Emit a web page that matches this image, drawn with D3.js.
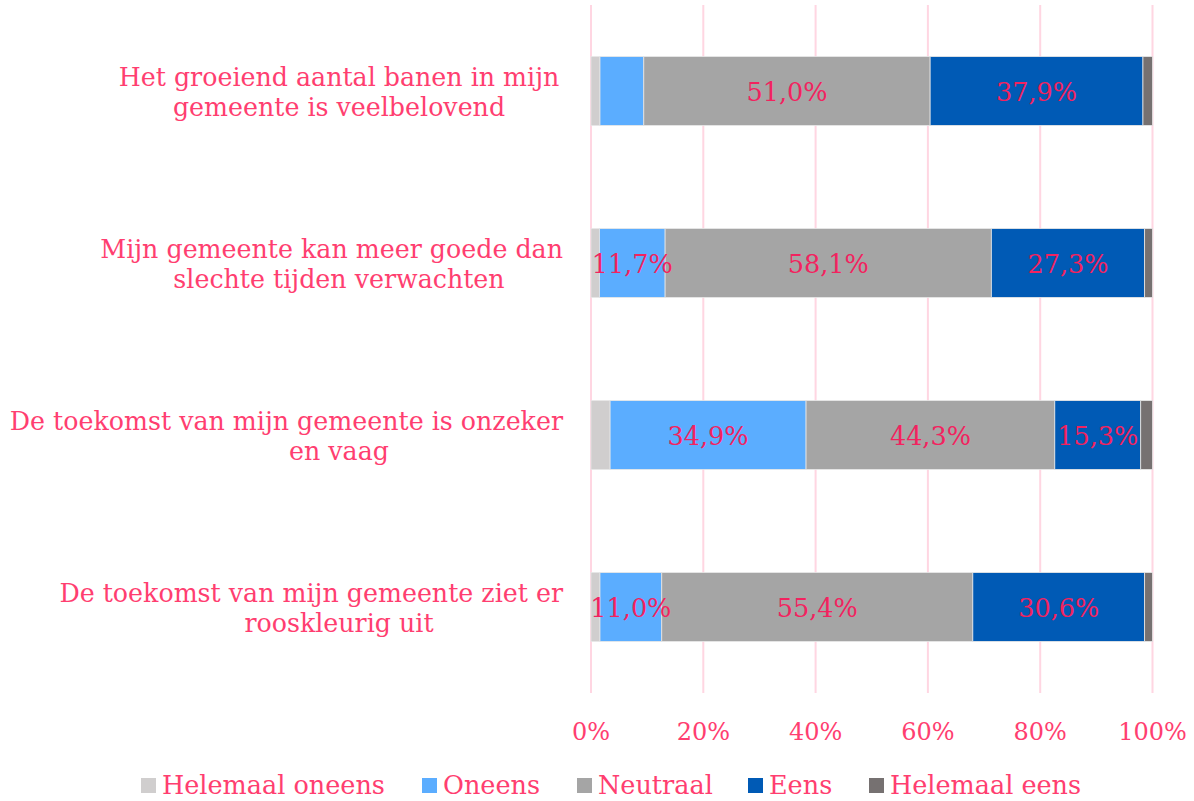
<!DOCTYPE html>
<html>
<head>
<meta charset="utf-8">
<script src="https://cdn.jsdelivr.net/npm/d3@7"></script>
<style>
  body { margin: 0; background: #fff; }
  svg { display: block; font-family: "DejaVu Serif", Georgia, serif; }
</style>
</head>
<body>
<svg id="chart" width="1194" height="801"></svg>
<script>
// data
var categories = [
  ["Het groeiend aantal banen in mijn", "gemeente is veelbelovend"],
  ["Mijn gemeente kan meer goede dan", "slechte tijden verwachten"],
  ["De toekomst van mijn gemeente is onzeker", "en vaag"],
  ["De toekomst van mijn gemeente ziet er", "rooskleurig uit"]
];
var seriesNames = ["Helemaal oneens", "Oneens", "Neutraal", "Eens", "Helemaal eens"];
var helemaalOneens = [1.6, 1.5, 3.4, 1.6];
var oneens = [7.8, 11.7, 34.9, 11.0];
var neutraal = [51.0, 58.1, 44.3, 55.4];
var eens = [37.9, 27.3, 15.3, 30.6];
var helemaalEens = [1.7, 1.4, 2.1, 1.4];
var tickValues = [0, 20, 40, 60, 80, 100];

var colors = ["#d0cece", "#5badff", "#a5a5a5", "#005ab5", "#767171"];
var pink = "#ff3e70";
var labelPink = "#f2235f";

var svg = d3.select("#chart");
var plotLeft = 591, plotRight = 1152.5, plotTop = 5, plotBottom = 693;

var x = d3.scaleLinear().domain([0, 100]).range([plotLeft, plotRight]);
var y = d3.scaleBand().domain(d3.range(categories.length)).range([plotTop, plotBottom])
    .paddingInner(0.6).paddingOuter(0.3);

var allSeries = [helemaalOneens, oneens, neutraal, eens, helemaalEens];
var rows = categories.map(function(c, i) {
  var acc = 0;
  return allSeries.map(function(s, k) {
    var d = {row: i, k: k, v: s[i], x0: acc, x1: acc + s[i]};
    acc += s[i];
    return d;
  });
});

// gridlines
svg.append("g").selectAll("line")
  .data(tickValues)
  .join("line")
    .attr("x1", function(d) { return x(d); })
    .attr("x2", function(d) { return x(d); })
    .attr("y1", plotTop)
    .attr("y2", plotBottom)
    .attr("stroke", "#ffd6e2")
    .attr("stroke-width", 2);

// bars
var segs = d3.merge(rows);
svg.append("g").selectAll("rect")
  .data(segs)
  .join("rect")
    .attr("x", function(d) { return x(d.x0); })
    .attr("width", function(d) { return x(d.x1) - x(d.x0); })
    .attr("y", function(d) { return y(d.row); })
    .attr("height", y.bandwidth())
    .attr("fill", function(d) { return colors[d.k]; })
    .attr("stroke", "#e6e6e6")
    .attr("stroke-width", 0.8);

// value labels
svg.append("g").selectAll("text")
  .data(segs.filter(function(d) { return d.v >= 10; }))
  .join("text")
    .attr("x", function(d) { return x((d.x0 + d.x1) / 2); })
    .attr("y", function(d) { return y(d.row) + y.bandwidth() / 2; })
    .attr("dy", "0.4em")
    .attr("text-anchor", "middle")
    .attr("fill", labelPink)
    .style("font-size", "25.5px")
    .text(function(d) { return d3.format(".1f")(d.v).replace(".", ",") + "%"; });

// x axis labels
svg.append("g").selectAll("text")
  .data(tickValues)
  .join("text")
    .attr("x", function(d) { return x(d); })
    .attr("y", 740)
    .attr("text-anchor", "middle")
    .attr("fill", pink)
    .style("font-size", "24px")
    .text(function(d) { return d + "%"; });

// category labels
var labelCenter = 339, labelRight = 563;
categories.forEach(function(lines, i) {
  var cy = y(i) + y.bandwidth() / 2;
  lines.forEach(function(line, j) {
    var t = svg.append("text")
      .attr("y", cy + (j - (lines.length - 1) / 2) * 30)
      .attr("dy", "0.4em")
      .attr("fill", pink)
      .style("font-size", "25.3px")
      .text(line);
    var w = t.node().getComputedTextLength();
    if (labelCenter + w / 2 > labelRight) {
      t.attr("x", labelRight).attr("text-anchor", "end");
    } else {
      t.attr("x", labelCenter).attr("text-anchor", "middle");
    }
  });
});

// legend
var legendX = [141, 422, 577, 748, 869];
var legend = svg.append("g").selectAll("g")
  .data(seriesNames)
  .join("g")
    .attr("transform", function(d, i) { return "translate(" + legendX[i] + ",778)"; });
legend.append("rect")
    .attr("width", 15).attr("height", 15)
    .attr("fill", function(d, i) { return colors[i]; });
legend.append("text")
    .attr("x", 21)
    .attr("y", 16)
    .attr("fill", pink)
    .style("font-size", "25.5px")
    .text(function(d) { return d; });
</script>
</body>
</html>
